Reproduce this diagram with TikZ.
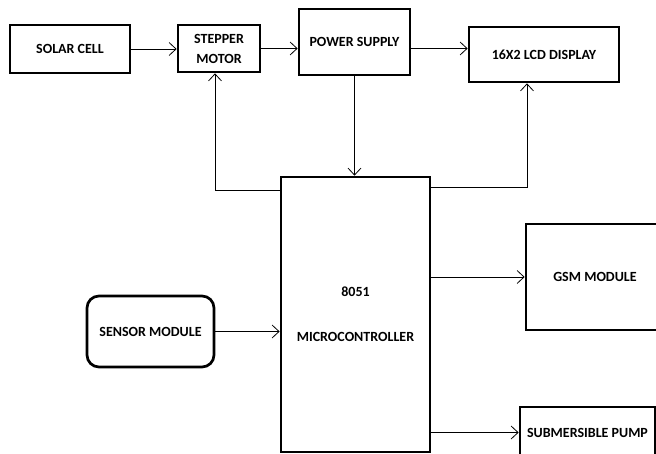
\documentclass[tikz,border=0pt]{standalone}
\usepackage{fontspec}
\setmainfont{Carlito}
\usetikzlibrary{arrows.meta}

\begin{document}
\begin{tikzpicture}[
    x=1pt, y=-1pt,
    block/.style={rectangle, draw, line width=2.7pt, inner sep=0pt, align=center,
        font=\bfseries\fontsize{14}{20}\selectfont},
    roundblock/.style={block, rounded corners=12pt},
    link/.style={line width=0.8pt, -{Straight Barb[length=7pt,width=13pt]}},
]
    \clip (0,0) rectangle (656,454);

    % Top row
    \node[block, minimum width=120, minimum height=48] (solar) at (70,49) {SOLAR CELL};
    \node[block, minimum width=82, minimum height=47] (stepper) at (219,48.5) {STEPPER\\MOTOR};
    \node[block, minimum width=111, minimum height=66] (power) at (354.5,42) {POWER SUPPLY};
    \node[block, minimum width=150, minimum height=55] (lcd) at (544,54.5) {16X2 LCD DISPLAY};

    % Controller
    \node[block, minimum width=149, minimum height=275] (micro) at (355.5,314.5) {8051\\[25pt]MICROCONTROLLER};

    % Input side
    \node[roundblock, minimum width=127, minimum height=71] (sensor) at (150.5,331.5) {SENSOR MODULE};

    % Output side
    \node[block, minimum width=138, minimum height=106] (gsm) at (595,277) {GSM MODULE};
    \node[block, minimum width=135, minimum height=51] (pump) at (587.5,432.5) {SUBMERSIBLE PUMP};

    % Connections along the top
    \draw[link] (solar.east) -- (solar.east -| stepper.west);
    \draw[link] (stepper.east) -- (stepper.east -| power.west);
    \draw[link] (stepper.east -| power.east) -- (stepper.east -| lcd.west);
    \draw[link] (power.south) -- (power.south |- micro.north);

    % Connections from the controller
    \draw[link] ([yshift=-15pt]micro.north west) -| ([xshift=-4pt]stepper.south);
    \draw[link] ([yshift=-12pt]micro.north east) -| ([xshift=-17pt]lcd.south);
    \draw[link] (micro.east |- gsm.west) -- (gsm.west);
    \draw[link] (micro.east |- pump.west) -- (pump.west);
    \draw[link] (sensor.east) -- (sensor.east -| micro.west);
\end{tikzpicture}
\end{document}
